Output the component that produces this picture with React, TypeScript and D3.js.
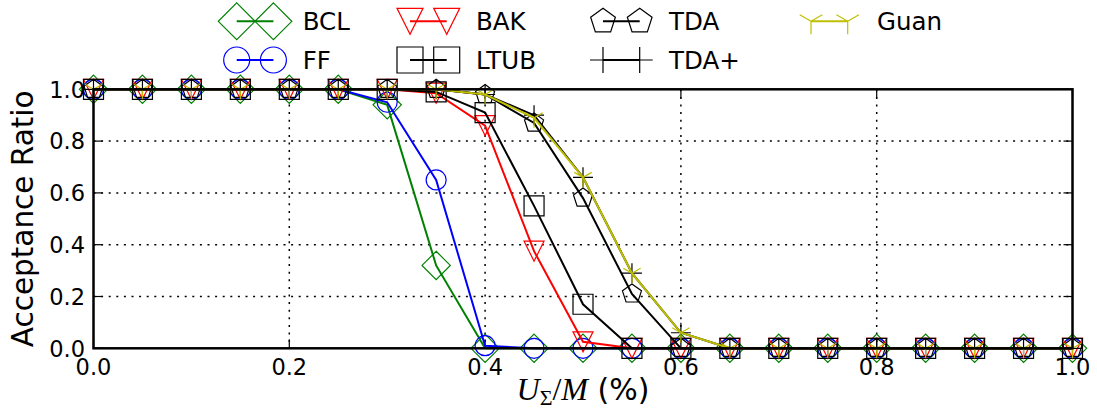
import React from 'react';
import * as d3 from 'd3';

// ---------------- data ----------------
const X_VALUES = [0, 0.05, 0.1, 0.15, 0.2, 0.25, 0.3, 0.35, 0.4, 0.45, 0.5, 0.55, 0.6, 0.65, 0.7, 0.75, 0.8, 0.85, 0.9, 0.95, 1.0];

const BCL = [1, 1, 1, 1, 1, 1, 0.94, 0.32, 0, 0, 0, 0, 0, 0, 0, 0, 0, 0, 0, 0, 0];
const FF = [1, 1, 1, 1, 1, 1, 0.95, 0.65, 0.01, 0, 0, 0, 0, 0, 0, 0, 0, 0, 0, 0, 0];
const BAK = [1, 1, 1, 1, 1, 1, 1, 0.985, 0.86, 0.375, 0.025, 0, 0, 0, 0, 0, 0, 0, 0, 0, 0];
const LTUB = [1, 1, 1, 1, 1, 1, 1, 0.99, 0.91, 0.55, 0.17, 0, 0, 0, 0, 0, 0, 0, 0, 0, 0];
const TDA = [1, 1, 1, 1, 1, 1, 1, 1, 0.98, 0.87, 0.58, 0.21, 0, 0, 0, 0, 0, 0, 0, 0, 0];
const TDA_PLUS = [1, 1, 1, 1, 1, 1, 1, 1, 0.98, 0.9, 0.66, 0.29, 0.06, 0, 0, 0, 0, 0, 0, 0, 0];
const GUAN = [1, 1, 1, 1, 1, 1, 1, 1, 0.98, 0.89, 0.66, 0.29, 0.06, 0, 0, 0, 0, 0, 0, 0, 0];

const SERIES_NAMES = ['BCL', 'FF', 'BAK', 'LTUB', 'TDA', 'TDA+', 'Guan'];
const SERIES_VALUES = [BCL, FF, BAK, LTUB, TDA, TDA_PLUS, GUAN];
const SERIES_COLORS = ['#008000', '#0000ff', '#ff0000', '#000000', '#000000', '#000000', '#bfbf00'];
const SERIES_MARKERS = ['diamond', 'circle', 'triDown', 'square', 'pentagon', 'plus', 'tri1'];

const X_TICKS = [0, 0.2, 0.4, 0.6, 0.8, 1.0];
const Y_TICKS = [0, 0.2, 0.4, 0.6, 0.8, 1.0];
const Y_LABEL = 'Acceptance Ratio';

// ---------------- layout ----------------
const W = 1097;
const H = 410;
const AX = { left: 93.5, right: 1072.5, top: 89.3, bottom: 348.3 };
const MS = 20;
const LEGEND_MS = 26;
const TICK_LEN = 9;
const SANS = 'DejaVu Sans, sans-serif';
const SERIF = 'Liberation Serif, DejaVu Serif, serif';

// legend: column first-marker x, row y
const LEG_COL_X = [236.7, 410, 603, 811];
const LEG_ROW_Y = [21.3, 60];
const LEG_HANDLE = 36.7;
const LEG_TEXT_DX = 66;

function markerPath(type: string, cx: number, cy: number, ms: number): string {
  const h = ms / 2;
  switch (type) {
    case 'circle':
      return `M${cx + h},${cy}A${h},${h} 0 1,1 ${cx - h},${cy}A${h},${h} 0 1,1 ${cx + h},${cy}Z`;
    case 'square':
      return `M${cx - h},${cy - h}H${cx + h}V${cy + h}H${cx - h}Z`;
    case 'diamond': {
      const d = ms / Math.SQRT2;
      return `M${cx},${cy - d}L${cx + d},${cy}L${cx},${cy + d}L${cx - d},${cy}Z`;
    }
    case 'triDown':
      return `M${cx},${cy + h}L${cx - h},${cy - h}L${cx + h},${cy - h}Z`;
    case 'pentagon': {
      const pts = d3.range(5).map((k) => {
        const a = ((-90 + k * 72) * Math.PI) / 180;
        return [cx + h * Math.cos(a), cy + h * Math.sin(a)];
      });
      return 'M' + pts.map((p) => p.join(',')).join('L') + 'Z';
    }
    case 'plus':
      return `M${cx - h},${cy}H${cx + h}M${cx},${cy - h}V${cy + h}`;
    case 'tri1': {
      const s = 0.866 * h;
      return `M${cx},${cy}V${cy + h}M${cx},${cy}L${cx - s},${cy - 0.5 * h}M${cx},${cy}L${cx + s},${cy - 0.5 * h}`;
    }
  }
  return '';
}

export default function App() {
  const x = d3.scaleLinear().domain([0, 1]).range([AX.left, AX.right]);
  const y = d3.scaleLinear().domain([0, 1]).range([AX.bottom, AX.top]);
  const line = d3
    .line<[number, number]>()
    .x((d) => x(d[0]))
    .y((d) => y(d[1]));

  const fmt = d3.format('.1f');

  return (
    <svg
      width={W}
      height={H}
      style={{ position: 'absolute', left: 0, top: 0, display: 'block', background: '#fff' }}
    >
      <rect x={0} y={0} width={W} height={H} fill="#fff" />

      {/* grid */}
      <g stroke="#000" strokeWidth={1.5} strokeDasharray="2,5.6">
        {X_TICKS.slice(1, -1).map((t) => (
          <line key={'gx' + t} x1={x(t)} x2={x(t)} y1={AX.top} y2={AX.bottom} />
        ))}
        {Y_TICKS.slice(1, -1).map((t) => (
          <line key={'gy' + t} x1={AX.left} x2={AX.right} y1={y(t)} y2={y(t)} />
        ))}
      </g>

      {/* ticks (inward, all sides) */}
      <g stroke="#000" strokeWidth={1.2}>
        {X_TICKS.map((t) => (
          <g key={'tx' + t}>
            <line x1={x(t)} x2={x(t)} y1={AX.bottom} y2={AX.bottom - TICK_LEN} />
            <line x1={x(t)} x2={x(t)} y1={AX.top} y2={AX.top + TICK_LEN} />
          </g>
        ))}
        {Y_TICKS.map((t) => (
          <g key={'ty' + t}>
            <line x1={AX.left} x2={AX.left + TICK_LEN} y1={y(t)} y2={y(t)} />
            <line x1={AX.right} x2={AX.right - TICK_LEN} y1={y(t)} y2={y(t)} />
          </g>
        ))}
      </g>

      {/* series */}
      {SERIES_NAMES.map((name, i) => {
        const pts: [number, number][] = X_VALUES.map((xv, j) => [xv, SERIES_VALUES[i][j]]);
        const col = SERIES_COLORS[i];
        return (
          <g key={name}>
            <path d={line(pts) || ''} fill="none" stroke={col} strokeWidth={2} strokeLinejoin="miter" />
            <path
              d={pts.map((p) => markerPath(SERIES_MARKERS[i], x(p[0]), y(p[1]), MS)).join('')}
              fill="none"
              stroke={col}
              strokeWidth={1.2}
            />
          </g>
        );
      })}

      {/* spines */}
      <rect
        x={AX.left}
        y={AX.top}
        width={AX.right - AX.left}
        height={AX.bottom - AX.top}
        fill="none"
        stroke="#000"
        strokeWidth={2.5}
      />

      {/* tick labels */}
      <g fontFamily={SANS} fontSize={22.5} fill="#000">
        {X_TICKS.map((t) => (
          <text key={'lx' + t} x={x(t)} y={375} textAnchor="middle">
            {fmt(t)}
          </text>
        ))}
        {Y_TICKS.map((t) => (
          <text key={'ly' + t} x={85} y={y(t) + 8.2} textAnchor="end">
            {fmt(t)}
          </text>
        ))}
      </g>

      {/* axis labels */}
      <text
        transform={`translate(33.3,${(AX.top + AX.bottom) / 2}) rotate(-90)`}
        textAnchor="middle"
        fontFamily={SANS}
        fontSize={29.5}
        fill="#000"
      >
        {Y_LABEL}
      </text>
      <text x={(AX.left + AX.right) / 2} y={400} textAnchor="middle" fontSize={32} fill="#000">
        <tspan fontFamily={SERIF} fontStyle="italic">U</tspan>
        <tspan fontFamily={SERIF} fontSize={22} dy={5}>Σ</tspan>
        <tspan fontFamily={SERIF} dy={-5}>/</tspan>
        <tspan fontFamily={SERIF} fontStyle="italic">M</tspan>
        <tspan fontFamily={SANS} fontSize={30}> (%)</tspan>
      </text>

      {/* legend */}
      {SERIES_NAMES.map((name, i) => {
        const c = Math.floor(i / 2);
        const r = i % 2;
        const x0 = LEG_COL_X[c];
        const x1 = x0 + LEG_HANDLE;
        const yy = LEG_ROW_Y[r];
        const col = SERIES_COLORS[i];
        return (
          <g key={'leg' + name}>
            <line x1={x0} x2={x1} y1={yy} y2={yy} stroke={col} strokeWidth={2} />
            <path
              d={markerPath(SERIES_MARKERS[i], x0, yy, LEGEND_MS) + markerPath(SERIES_MARKERS[i], x1, yy, LEGEND_MS)}
              fill="none"
              stroke={col}
              strokeWidth={1.2}
            />
            <text x={x0 + LEG_TEXT_DX} y={yy + 9} fontFamily={SANS} fontSize={24.5} fill="#000">
              {name}
            </text>
          </g>
        );
      })}
    </svg>
  );
}
